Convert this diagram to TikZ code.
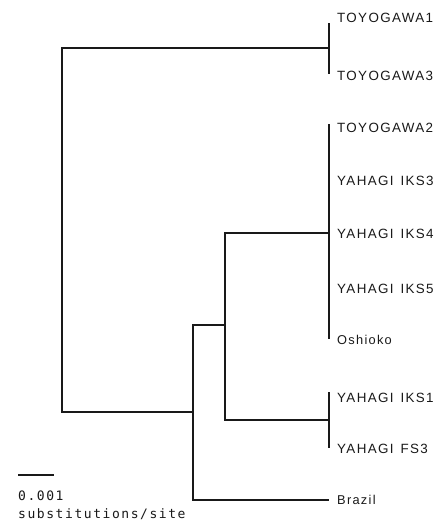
\documentclass[tikz,border=0pt]{standalone}
\usepackage{fontspec}
\setmainfont{Liberation Sans}
\newfontfamily\labfont[LetterSpace=10]{Liberation Sans}
\newfontfamily\lowfont[LetterSpace=10]{Liberation Sans}
\newfontfamily\barfont[LetterSpace=12]{DejaVu Sans Mono}
\newcommand{\gapsp}{\hspace{7pt}}
\tikzset{
  branch/.style={line width=2.1pt, draw=black!90},
  leaflab/.style={anchor=base west, inner sep=0pt, font=\fontsize{13.4}{13}\labfont, text=black!90},
  lowlab/.style={anchor=base west, inner sep=0pt, font=\fontsize{12.8}{13}\lowfont, text=black!90},
  barlab/.style={anchor=base west, inner sep=0pt, font=\fontsize{13}{13}\barfont, text=black!90}
}
\begin{document}
\begin{tikzpicture}[x=1pt,y=-1pt]
\useasboundingbox (0,0) rectangle (443,522);
% internal nodes
\coordinate (root) at (62,230);
\coordinate (toyo) at (329,48);
\coordinate (n1) at (193,412);
\coordinate (clade) at (225,325);
\coordinate (big) at (329,233);
\coordinate (ik) at (329,420);
% leaf ends
\coordinate (T1) at (329,23);
\coordinate (T3) at (329,74);
\coordinate (T2) at (329,124);
\coordinate (Osh) at (329,339);
\coordinate (I1) at (329,392);
\coordinate (F3) at (329,448);
\coordinate (Bra) at (329,500);
% branches
\draw[branch] (root) |- (toyo);
\draw[branch] (root) |- (n1);
\draw[branch] (n1) |- (clade);
\draw[branch] (n1) |- (Bra);
\draw[branch] (clade) |- (big);
\draw[branch] (clade) |- (ik);
\draw[branch] (T1) -- (T3);
\draw[branch] (T2) -- (Osh);
\draw[branch] (I1) -- (F3);
% labels
\node[leaflab] (l1) at (337,23) {TOYOGAWA1};
\node[leaflab] (l2) at (337,80) {TOYOGAWA3};
\node[leaflab] (l3) at (337,132) {TOYOGAWA2};
\node[leaflab] (l4) at (337,185) {YAHAGI\gapsp IKS3};
\node[leaflab] (l5) at (337,238) {YAHAGI\gapsp IKS4};
\node[leaflab] (l6) at (337,293) {YAHAGI\gapsp IKS5};
\node[lowlab] (l7) at (337,344) {Oshioko};
\node[leaflab] (l8) at (337,402) {YAHAGI\gapsp IKS1};
\node[leaflab] (l9) at (337,453) {YAHAGI\gapsp FS3};
\node[lowlab] (l10) at (337,504) {Brazil};
% scale bar
\coordinate (sb1) at (18,475);
\coordinate (sb2) at (54,475);
\draw[line width=2.4pt, draw=black!90] (sb1) -- (sb2);
\node[barlab] (s1) at (18,500) {0.001};
\node[barlab] (s2) at (18,518) {substitutions/site};
\end{tikzpicture}
\end{document}
